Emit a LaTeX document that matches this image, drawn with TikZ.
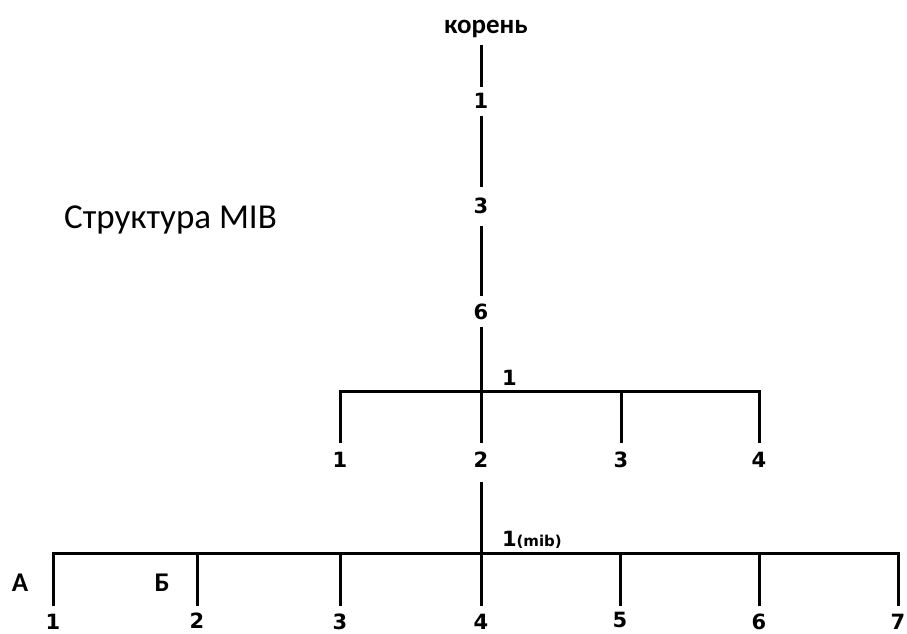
\documentclass[tikz,border=0pt]{standalone}
\usepackage{fontspec}
\setmainfont{Carlito}
\newfontfamily\digfont{DejaVu Sans}
\begin{document}
\begin{tikzpicture}[x=1pt,y=-1pt,
  ln/.style={line width=3pt,line cap=butt},
  dig/.style={font=\digfont\bfseries\fontsize{21}{21}\selectfont,inner sep=0pt,outer sep=0pt},
  word/.style={font=\bfseries\fontsize{27}{27}\selectfont,inner sep=0pt},
  title/.style={font=\fontsize{35}{35}\selectfont,inner sep=0pt}]
\useasboundingbox (0,0) rectangle (907,634);
% labels
\node[word] (root) at (486,29) {корень};
\node[dig] (a1) at (481,101) {1};
\node[dig] (a3) at (481,206) {3};
\node[dig] (a6) at (481,312) {6};
\node[title,anchor=west] (ttl) at (64,220) {Структура MIB};
\node[dig,anchor=west] (l1) at (502,378) {1};
\node[dig] (b1) at (340,460) {1};
\node[dig] (b2) at (481,460) {2};
\node[dig] (b3) at (621,460) {3};
\node[dig] (b4) at (759,460) {4};
\node[dig,anchor=west] (l2) at (502,540) {1{\fontsize{15}{15}\selectfont(mib)}};
\node[word] (A) at (20,583) {А};
\node[word] (B) at (162,583) {Б};
\node[dig] (c1) at (53,622) {1};
\node[dig] (c2) at (197,621) {2};
\node[dig] (c3) at (340,622) {3};
\node[dig] (c4) at (481,622) {4};
\node[dig] (c5) at (620,620) {5};
\node[dig] (c6) at (759,622) {6};
\node[dig] (c7) at (898,622) {7};
% junction coordinates
\coordinate (j1) at (481,391);
\coordinate (k1) at (340,391);
\coordinate (k3) at (621,391);
\coordinate (k4) at (759,391);
\coordinate (j2) at (481,553);
\coordinate (m1) at (53,553);
\coordinate (m2) at (197,553);
\coordinate (m3) at (340,553);
\coordinate (m5) at (620,553);
\coordinate (m6) at (759,553);
\coordinate (m7) at (898,553);
% spine
\draw[ln] ([yshift=-7pt]root.south -| a1) -- ([yshift=6pt]a1.north);
\draw[ln] ([yshift=-7pt]a1.south) -- ([yshift=11pt]a3.north);
\draw[ln] ([yshift=-12pt]a3.south) -- ([yshift=8pt]a6.north);
\draw[ln] ([yshift=-7pt]a6.south) -- (j1);
% first bar
\draw[ln,line join=miter] ([yshift=9pt]b1.north) |- (k4) -- ([yshift=9pt]b4.north);
\draw[ln] (j1) -- ([yshift=9pt]b2.north);
\draw[ln] (k3) -- ([yshift=9pt]b3.north);
% second level
\draw[ln] ([yshift=-14pt]b2.south) -- (j2);
\draw[ln,line join=miter] ([yshift=8pt]c1.north) |- (m7) -- ([yshift=8pt]c7.north);
\draw[ln] (m2) -- ([yshift=7pt]c2.north);
\draw[ln] (m3) -- ([yshift=8pt]c3.north);
\draw[ln] (j2) -- ([yshift=8pt]c4.north);
\draw[ln] (m5) -- ([yshift=6pt]c5.north);
\draw[ln] (m6) -- ([yshift=8pt]c6.north);
\end{tikzpicture}
\end{document}
